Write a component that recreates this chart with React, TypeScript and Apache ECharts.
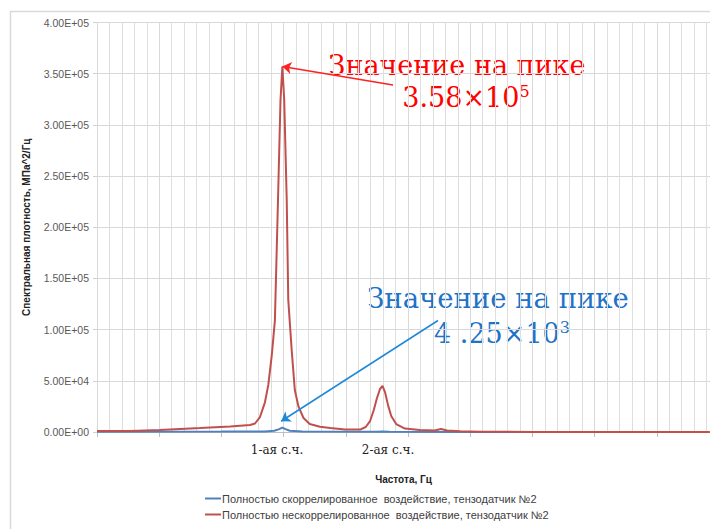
import React, { useEffect, useRef } from "react";
import * as echarts from "echarts";

// Frequency (relative units, 1 unit = one major tick) and spectral density values
const redX = [0, 0.53, 1.01, 1.66, 2.14, 2.46, 2.54, 2.62, 2.7, 2.754, 2.81, 2.86, 2.91, 2.95, 2.98, 3.01, 3.05, 3.075, 3.13, 3.18, 3.24, 3.32, 3.42, 3.585, 3.75, 3.99, 4.23, 4.32, 4.39, 4.45, 4.5, 4.55, 4.59, 4.63, 4.68, 4.73, 4.81, 4.95, 5.19, 5.43, 5.53, 5.63, 5.84, 6.16, 7.0, 8.5, 9.85];
const redY = [1000, 1000, 2000, 3900, 5400, 6800, 8300, 14600, 29000, 46000, 75000, 109000, 227000, 324000, 357000, 324000, 227000, 129000, 80000, 41000, 24700, 13700, 7800, 5200, 3900, 2400, 2400, 4900, 10700, 21500, 33000, 42000, 45000, 39000, 26000, 15600, 7800, 3400, 2000, 1500, 2900, 1500, 700, 200, 100, 50, 0];

const blueX = [0, 2.0, 2.7, 2.85, 2.93, 2.98, 3.03, 3.1, 3.3, 4.5, 4.59, 4.7, 6, 9.85];
const blueY = [300, 400, 600, 1200, 2800, 4250, 2800, 1200, 500, 300, 500, 300, 100, 50];

const seriesNames = [
  "Полностью скоррелированное  воздействие, тензодатчик №2",
  "Полностью нескоррелированное  воздействие, тензодатчик №2",
];

const peakLabels = ["1-ая с.ч.", "2-ая с.ч."];
const xTitle = "Частота, Гц";
const yTitle = "Спектральная плотность, МПа^2/Гц";

const redPeak = [2.98, 357000];
const bluePeakArrowEnd = [2.96, 10500];

function fmtExp(v: number): string {
  if (v === 0) return "0.00E+00";
  const e = Math.floor(Math.log10(v) + 1e-9);
  const m = v / Math.pow(10, e);
  return m.toFixed(2) + "E+" + (e < 10 ? "0" + e : String(e));
}

export default function App() {
  const ref = useRef<HTMLDivElement>(null);
  useEffect(() => {
    if (!ref.current) return;
    const chart = echarts.init(ref.current, undefined, { renderer: "svg" });
    const red = redX.map((x, i) => [x, redY[i]]);
    const blue = blueX.map((x, i) => [x, blueY[i]]);
    const serif = "DejaVu Serif";
    chart.setOption({
      animation: false,
      backgroundColor: "#ffffff",
      grid: { left: 97, top: 22.5, right: 0, bottom: 97, containLabel: false },
      xAxis: {
        type: "value",
        min: 0,
        max: 9.855,
        interval: 1,
        name: xTitle,
        nameLocation: "middle",
        nameGap: 42,
        nameTextStyle: { fontFamily: "Liberation Sans", fontSize: 10, fontWeight: "bold", color: "#222" },
        axisLine: { show: true, lineStyle: { color: "#bfbfbf", width: 1 } },
        axisTick: { show: true, length: 5, lineStyle: { color: "#bfbfbf" } },
        axisLabel: { show: false },
        splitLine: { show: true, lineStyle: { color: "#d9d9d9", width: 1 } },
        minorTick: { show: false, splitNumber: 5 },
        minorSplitLine: { show: true, lineStyle: { color: "#dedede", width: 1 } },
      },
      yAxis: {
        type: "value",
        min: 0,
        max: 400000,
        interval: 50000,
        name: yTitle,
        nameLocation: "middle",
        nameGap: 66,
        nameRotate: 90,
        nameTextStyle: { fontFamily: "Liberation Sans", fontSize: 10, fontWeight: "bold", color: "#222" },
        axisLine: { show: false },
        axisTick: { show: true, length: 4, lineStyle: { color: "#d0d0d0" } },
        axisLabel: {
          formatter: (v: number) => fmtExp(v),
          fontFamily: "Liberation Sans",
          fontSize: 10.5,
          color: "#595959",
          margin: 8,
        },
        splitLine: { show: true, lineStyle: { color: "#d9d9d9", width: 1 } },
      },
      legend: {
        orient: "vertical",
        left: 205,
        top: 493,
        height: 36,
        padding: 0,
        itemGap: 5,
        itemWidth: 16,
        itemHeight: 2,
        icon: "rect",
        textStyle: { fontFamily: "Liberation Sans", fontSize: 11, color: "#404040", padding: [0, 0, 0, -4] },
        data: seriesNames,
      },
      series: [
        {
          name: seriesNames[0],
          type: "line",
          data: blue,
          showSymbol: false,
          symbol: "none",
          color: "#4F81BD",
          lineStyle: { color: "#4F81BD", width: 2 },
          markLine: {
            silent: true,
            symbol: ["none", "arrow"],
            symbolSize: 9,
            label: { show: false },
            lineStyle: { color: "#1E88D8", width: 1.5, type: "solid" },
            data: [[{ x: 438, y: 320.5 }, { coord: bluePeakArrowEnd }]],
          },
        },
        {
          name: seriesNames[1],
          type: "line",
          data: red,
          showSymbol: false,
          symbol: "none",
          color: "#C0504D",
          lineStyle: { color: "#C0504D", width: 2 },
          markLine: {
            silent: true,
            symbol: ["none", "arrow"],
            symbolSize: 9,
            label: { show: false },
            lineStyle: { color: "#FF2020", width: 1.5, type: "solid" },
            data: [[{ x: 393, y: 85 }, { coord: redPeak }]],
          },
        },
      ],
      graphic: [
        {
          type: "rect",
          silent: true,
          shape: { x: 10.5, y: 11.5, width: 760, height: 600 },
          style: { fill: "none", stroke: "#d9d9d9", lineWidth: 1.5 },
          z: -1,
        },
        {
          type: "text",
          x: 457,
          y: 65,
          style: { text: "Значение на пике", fill: "#FF0000", font: `27px '${serif}'`, textAlign: "center", textVerticalAlign: "middle" },
        },
        {
          type: "text",
          x: 466,
          y: 97,
          style: {
            text: "{a|3.58×10}{s|5}",
            textAlign: "center",
            textVerticalAlign: "middle",
            rich: {
              a: { fill: "#FF0000", fontFamily: serif, fontSize: 27 },
              s: { fill: "#FF0000", fontFamily: serif, fontSize: 16, verticalAlign: "top", padding: [0, 0, 12, 0] },
            },
          },
        },
        {
          type: "text",
          x: 498,
          y: 298,
          style: { text: "Значение на пике", fill: "#1E73C8", font: `27.5px '${serif}'`, textAlign: "center", textVerticalAlign: "middle" },
        },
        {
          type: "text",
          x: 502,
          y: 333,
          style: {
            text: "{a|4 .25×10}{s|3}",
            textAlign: "center",
            textVerticalAlign: "middle",
            rich: {
              a: { fill: "#1E73C8", fontFamily: serif, fontSize: 27 },
              s: { fill: "#1E73C8", fontFamily: serif, fontSize: 16, verticalAlign: "top", padding: [0, 0, 12, 0] },
            },
          },
        },
        {
          type: "text",
          x: 277,
          y: 450,
          style: { text: peakLabels[0], fill: "#222", font: `12px '${serif}'`, textAlign: "center", textVerticalAlign: "middle" },
        },
        {
          type: "text",
          x: 388,
          y: 450,
          style: { text: peakLabels[1], fill: "#222", font: `12px '${serif}'`, textAlign: "center", textVerticalAlign: "middle" },
        },
      ],
    });
    return () => chart.dispose();
  }, []);
  return <div ref={ref} style={{ position: "fixed", left: 0, top: 0, width: 710, height: 529 }} />;
}
